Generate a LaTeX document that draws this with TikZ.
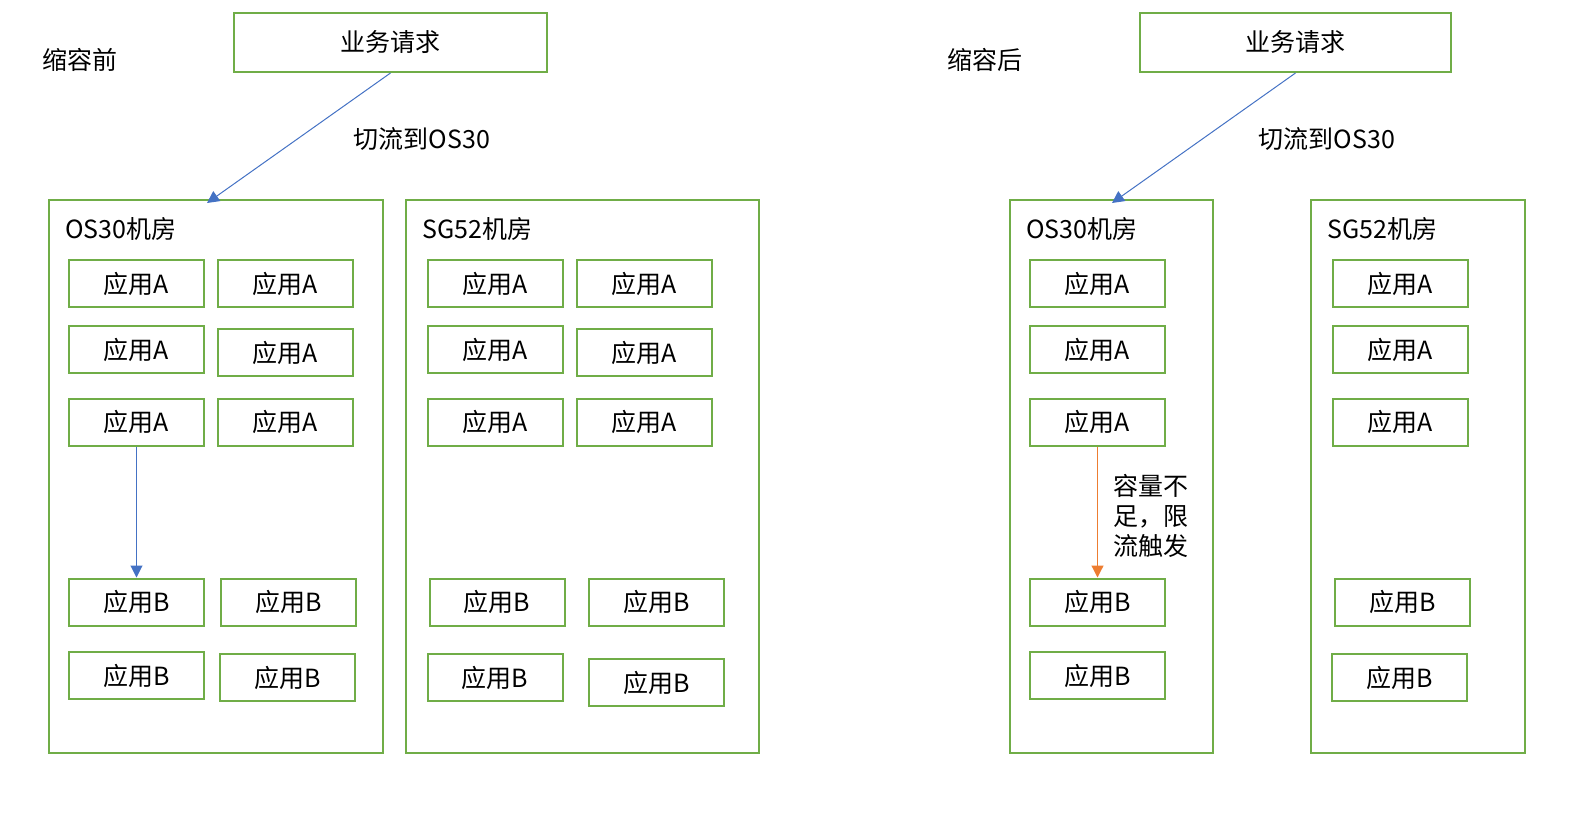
\documentclass[tikz,border=0pt]{standalone}
\usepackage{fontspec}
\setmainfont{Noto Sans CJK SC}
\usetikzlibrary{arrows.meta}
\definecolor{gbox}{HTML}{70AD47}
\definecolor{barrow}{HTML}{4472C4}
\definecolor{oarrow}{HTML}{ED7D31}
\tikzset{
  app/.style={draw=gbox, line width=1pt, minimum width=67.5pt, minimum height=23.5pt, inner sep=0pt, font=\fontsize{12.5}{14}\selectfont},
  req/.style={draw=gbox, line width=1pt, minimum width=156.5pt, minimum height=29.5pt, inner sep=0pt, font=\fontsize{12.5}{14}\selectfont},
  room/.style={draw=gbox, line width=1pt, inner sep=0pt},
  txt/.style={inner sep=0pt, font=\fontsize{12.5}{14}\selectfont},
  barr/.style={draw=barrow, line width=0.5pt, -{Triangle[length=6pt,width=6pt]}},
  oarr/.style={draw=oarrow, line width=0.6pt, -{Triangle[length=6pt,width=6pt]}},
}
\begin{document}
\begin{tikzpicture}[x=0.5pt,y=-0.5pt]
\useasboundingbox (0,0) rectangle (1586,816);
% ---------- left ----------
\node[txt] (t1) at (80,60) {缩容前};
\node[req] (r1) at (390.5,42.5) {业务请求};
\node[room, minimum width=167pt, minimum height=276.5pt] (os1) at (216,476.5) {};
\node[room, minimum width=176.5pt, minimum height=276.5pt] (sg1) at (582.5,476.5) {};
\node[txt, anchor=west] (os1l) at (65,229) {OS30机房};
\node[txt, anchor=west] (sg1l) at (422,229) {SG52机房};
\coordinate (e1) at (207,203);
\draw[barr] (r1.south) -- (e1);
\node[txt] (c1) at (422,139) {切流到OS30};
% OS30 apps
\node[app] (a11) at (136.5,283.5) {应用A};
\node[app] (a12) at (285.5,283.5) {应用A};
\node[app] (a13) at (136.5,349.5) {应用A};
\node[app] (a14) at (285.5,352.5) {应用A};
\node[app] (a15) at (136.5,422) {应用A};
\node[app] (a16) at (285.5,422) {应用A};
\node[app] (b11) at (136.5,602) {应用B};
\node[app] (b12) at (288.5,602) {应用B};
\node[app] (b13) at (136.5,675.5) {应用B};
\node[app] (b14) at (287.5,677.5) {应用B};
\draw[barr] (a15.south) -- (b11.north);
% SG52 apps
\node[app] (s11) at (495.5,283.5) {应用A};
\node[app] (s12) at (644.5,283.5) {应用A};
\node[app] (s13) at (495.5,349.5) {应用A};
\node[app] (s14) at (644.5,352.5) {应用A};
\node[app] (s15) at (495.5,422) {应用A};
\node[app] (s16) at (644.5,422) {应用A};
\node[app] (sb11) at (497,602) {应用B};
\node[app] (sb12) at (656.5,602) {应用B};
\node[app] (sb13) at (495,677.5) {应用B};
\node[app] (sb14) at (656.5,682.5) {应用B};
% ---------- right ----------
\node[txt] (t2) at (985,60) {缩容后};
\node[req, minimum width=155.5pt] (r2) at (1295.5,42.5) {业务请求};
\node[room, minimum width=101.5pt, minimum height=276.5pt] (os2) at (1111.5,476.5) {};
\node[room, minimum width=107pt, minimum height=276.5pt] (sg2) at (1418,476.5) {};
\node[txt, anchor=west] (os2l) at (1026,229) {OS30机房};
\node[txt, anchor=west] (sg2l) at (1327,229) {SG52机房};
\coordinate (e2) at (1112,203);
\draw[barr] (r2.south) -- (e2);
\node[txt] (c2) at (1327,139) {切流到OS30};
\node[app] (a21) at (1097.5,283.5) {应用A};
\node[app] (a22) at (1097.5,349.5) {应用A};
\node[app] (a23) at (1097.5,422) {应用A};
\node[app] (b21) at (1097.5,602) {应用B};
\node[app] (b22) at (1097.5,675.5) {应用B};
\draw[oarr] (a23.south) -- (b21.north);
\node[txt, anchor=north west, align=left, font=\fontsize{12.5}{15}\selectfont] (lim) at (1113,474) {容量不\\足，限\\流触发};
\node[app] (s21) at (1400.5,283.5) {应用A};
\node[app] (s22) at (1400.5,349.5) {应用A};
\node[app] (s23) at (1400.5,422) {应用A};
\node[app] (sb21) at (1402.5,602) {应用B};
\node[app] (sb22) at (1399.5,677.5) {应用B};
\end{tikzpicture}
\end{document}
